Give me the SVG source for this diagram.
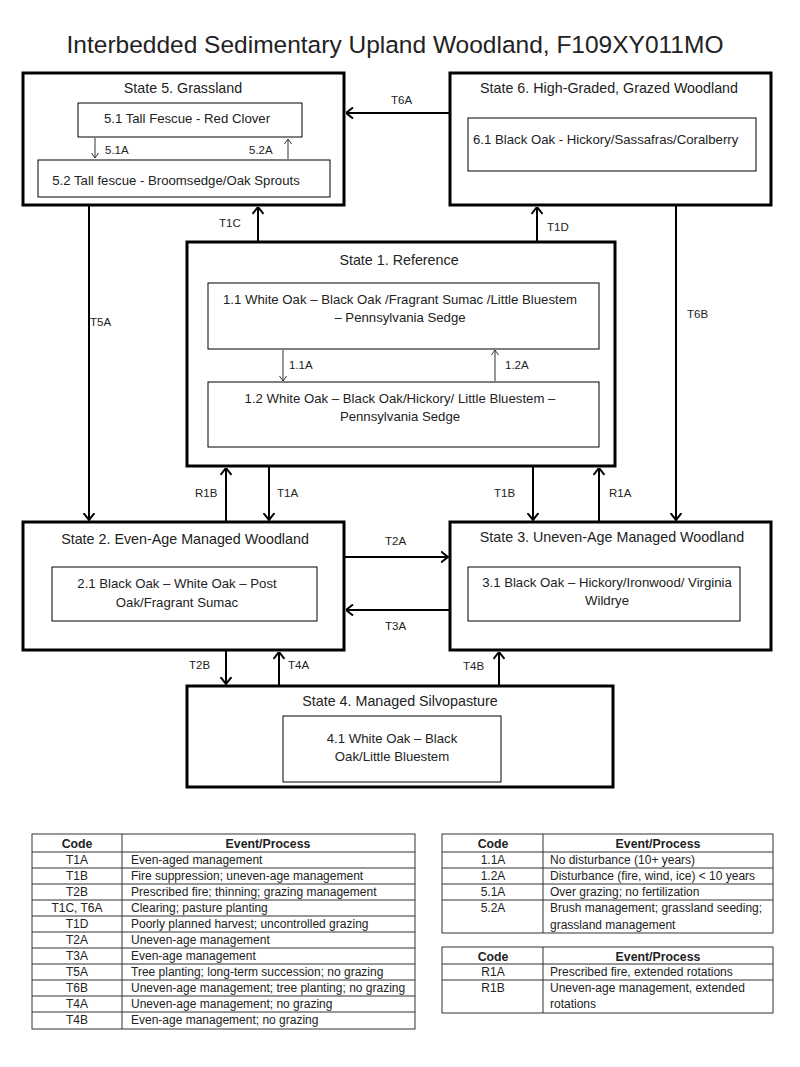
<svg xmlns="http://www.w3.org/2000/svg" width="800" height="1067" viewBox="0 0 800 1067">
<style>
text{font-family:"Liberation Sans",Arial,sans-serif;fill:#222;}
.title{font-size:24.5px;}
.st{font-size:14.3px;text-anchor:middle;}
.tx{font-size:13.2px;}
.c{text-anchor:middle;}
.lb{font-size:11.5px;}
.state{fill:#fff;stroke:#000;stroke-width:3;}
.inner{fill:#fff;stroke:#000;stroke-width:1;}
.con{fill:none;stroke:#000;stroke-width:2;}
.thin{fill:none;stroke:#333;stroke-width:1;}
.tb{font-size:12px;}
.th{font-size:12.3px;font-weight:bold;text-anchor:middle;}
.grid{fill:none;stroke:#333;stroke-width:1;}
</style>
<defs>
<marker id="ah" viewBox="0 0 8 12" refX="7.5" refY="6" markerWidth="8" markerHeight="12" markerUnits="userSpaceOnUse" orient="auto">
<path d="M0.5,0.5 L7.5,6 L0.5,11.5" fill="none" stroke="#000" stroke-width="2"/>
</marker>
<marker id="as" viewBox="0 0 6 8" refX="5.5" refY="4" markerWidth="6" markerHeight="8" markerUnits="userSpaceOnUse" orient="auto">
<path d="M0.5,0.5 L5.5,4 L0.5,7.5" fill="none" stroke="#333" stroke-width="1"/>
</marker>
</defs>
<rect width="800" height="1067" fill="#fff"/>
<text class="title" x="395" y="53" text-anchor="middle">Interbedded Sedimentary Upland Woodland, F109XY011MO</text>

<g id="state5">
<rect class="state" x="23" y="73" width="321" height="132"/>
<text class="st" x="183" y="93">State 5. Grassland</text>
<rect class="inner" x="78" y="103" width="224" height="34"/>
<text class="tx c" x="187" y="123">5.1 Tall Fescue - Red Clover</text>
<rect class="inner" x="38" y="160" width="292" height="37"/>
<text class="tx c" x="176" y="185">5.2 Tall fescue - Broomsedge/Oak Sprouts</text>
</g>

<g id="state6">
<rect class="state" x="450" y="73" width="321" height="132"/>
<text class="st" x="609" y="93">State 6. High-Graded, Grazed Woodland</text>
<rect class="inner" x="468" y="118" width="288" height="53"/>
<text class="tx" x="473" y="144">6.1 Black Oak - Hickory/Sassafras/Coralberry</text>
</g>

<g id="state1">
<rect class="state" x="187" y="242" width="428" height="224"/>
<text class="st" x="399" y="265">State 1. Reference</text>
<rect class="inner" x="208" y="283" width="391" height="66"/>
<text class="tx c" x="400" y="304">1.1 White Oak – Black Oak /Fragrant Sumac /Little Bluestem</text>
<text class="tx c" x="400" y="322">– Pennsylvania Sedge</text>
<rect class="inner" x="208" y="382" width="391" height="65"/>
<text class="tx c" x="400" y="403">1.2 White Oak – Black Oak/Hickory/ Little Bluestem –</text>
<text class="tx c" x="400" y="421">Pennsylvania Sedge</text>
</g>

<g id="state2">
<rect class="state" x="23" y="522" width="321" height="128"/>
<text class="st" x="185" y="544">State 2. Even-Age Managed Woodland</text>
<rect class="inner" x="52" y="567" width="265" height="54"/>
<text class="tx c" x="177" y="588">2.1 Black Oak – White Oak – Post</text>
<text class="tx c" x="177" y="607">Oak/Fragrant Sumac</text>
</g>

<g id="state3">
<rect class="state" x="450" y="522" width="321" height="128"/>
<text class="st" x="612" y="542">State 3. Uneven-Age Managed Woodland</text>
<rect class="inner" x="468" y="567" width="272" height="54"/>
<text class="tx c" x="607" y="587">3.1 Black Oak – Hickory/Ironwood/ Virginia</text>
<text class="tx c" x="607" y="605">Wildrye</text>
</g>

<g id="state4">
<rect class="state" x="187" y="686" width="426" height="101"/>
<text class="st" x="400" y="706">State 4. Managed Silvopasture</text>
<rect class="inner" x="283" y="716" width="218" height="66"/>
<text class="tx c" x="392" y="743">4.1 White Oak – Black</text>
<text class="tx c" x="392" y="761">Oak/Little Bluestem</text>
</g>

<g id="connectors">
<path class="con" d="M450,113 L346,113" marker-end="url(#ah)"/>
<path class="con" d="M258,241 L258,207" marker-end="url(#ah)"/>
<path class="con" d="M537,241 L537,207" marker-end="url(#ah)"/>
<path class="con" d="M89,206 L89,520" marker-end="url(#ah)"/>
<path class="con" d="M676,206 L676,520" marker-end="url(#ah)"/>
<path class="con" d="M226,521 L226,468" marker-end="url(#ah)"/>
<path class="con" d="M269,467 L269,520" marker-end="url(#ah)"/>
<path class="con" d="M533,467 L533,520" marker-end="url(#ah)"/>
<path class="con" d="M599,521 L599,468" marker-end="url(#ah)"/>
<path class="con" d="M345,557 L448,557" marker-end="url(#ah)"/>
<path class="con" d="M449,610 L346,610" marker-end="url(#ah)"/>
<path class="con" d="M226,651 L226,684" marker-end="url(#ah)"/>
<path class="con" d="M279,685 L279,652" marker-end="url(#ah)"/>
<path class="con" d="M499,685 L499,652" marker-end="url(#ah)"/>
<path class="thin" d="M95,138 L95,158" marker-end="url(#as)"/>
<path class="thin" d="M288,159 L288,139" marker-end="url(#as)"/>
<path class="thin" d="M283,350 L283,381" marker-end="url(#as)"/>
<path class="thin" d="M495,381 L495,350" marker-end="url(#as)"/>
<text class="lb" x="391" y="104">T6A</text>
<text class="lb" x="219" y="227">T1C</text>
<text class="lb" x="547" y="231">T1D</text>
<text class="lb" x="90" y="326">T5A</text>
<text class="lb" x="687" y="318">T6B</text>
<text class="lb" x="195" y="497">R1B</text>
<text class="lb" x="277" y="497">T1A</text>
<text class="lb" x="494" y="497">T1B</text>
<text class="lb" x="609" y="497">R1A</text>
<text class="lb" x="385" y="545">T2A</text>
<text class="lb" x="385" y="630">T3A</text>
<text class="lb" x="189" y="669">T2B</text>
<text class="lb" x="288" y="669">T4A</text>
<text class="lb" x="463" y="670">T4B</text>
<text class="lb" x="105" y="154">5.1A</text>
<text class="lb" x="249" y="154">5.2A</text>
<text class="lb" x="289" y="369">1.1A</text>
<text class="lb" x="505" y="369">1.2A</text>
</g>

<g id="table-left">
<rect class="grid" x="32" y="834" width="383" height="195"/>
<path class="grid" d="M122,834 V1029 M32,852 H415 M32,868 H415 M32,884 H415 M32,900 H415 M32,916 H415 M32,932 H415 M32,948 H415 M32,964 H415 M32,980 H415 M32,996 H415 M32,1012 H415"/>
<text class="th" x="77" y="848">Code</text>
<text class="th" x="268" y="848">Event/Process</text>
<g class="tb">
<text class="c" x="77" y="864">T1A</text><text x="131" y="864">Even-aged management</text>
<text class="c" x="77" y="880">T1B</text><text x="131" y="880">Fire suppression; uneven-age management</text>
<text class="c" x="77" y="896">T2B</text><text x="131" y="896">Prescribed fire; thinning; grazing management</text>
<text class="c" x="77" y="912">T1C, T6A</text><text x="131" y="912">Clearing; pasture planting</text>
<text class="c" x="77" y="928">T1D</text><text x="131" y="928">Poorly planned harvest; uncontrolled grazing</text>
<text class="c" x="77" y="944">T2A</text><text x="131" y="944">Uneven-age management</text>
<text class="c" x="77" y="960">T3A</text><text x="131" y="960">Even-age management</text>
<text class="c" x="77" y="976">T5A</text><text x="131" y="976">Tree planting; long-term succession; no grazing</text>
<text class="c" x="77" y="992">T6B</text><text x="131" y="992">Uneven-age management; tree planting; no grazing</text>
<text class="c" x="77" y="1008">T4A</text><text x="131" y="1008">Uneven-age management; no grazing</text>
<text class="c" x="77" y="1024">T4B</text><text x="131" y="1024">Even-age management; no grazing</text>
</g>
</g>

<g id="table-right-1">
<rect class="grid" x="442" y="834" width="331" height="99"/>
<path class="grid" d="M543,834 V933 M442,852 H773 M442,868 H773 M442,884 H773 M442,900 H773"/>
<text class="th" x="493" y="848">Code</text>
<text class="th" x="658" y="848">Event/Process</text>
<g class="tb">
<text class="c" x="493" y="864">1.1A</text><text x="550" y="864">No disturbance (10+ years)</text>
<text class="c" x="493" y="880">1.2A</text><text x="550" y="880">Disturbance (fire, wind, ice) &lt; 10 years</text>
<text class="c" x="493" y="896">5.1A</text><text x="550" y="896">Over grazing; no fertilization</text>
<text class="c" x="493" y="912">5.2A</text><text x="550" y="912">Brush management; grassland seeding;</text>
<text x="550" y="929">grassland management</text>
</g>
</g>

<g id="table-right-2">
<rect class="grid" x="442" y="947" width="331" height="66"/>
<path class="grid" d="M543,947 V1013 M442,964 H773 M442,980 H773"/>
<text class="th" x="493" y="961">Code</text>
<text class="th" x="658" y="961">Event/Process</text>
<g class="tb">
<text class="c" x="493" y="976">R1A</text><text x="550" y="976">Prescribed fire, extended rotations</text>
<text class="c" x="493" y="992">R1B</text><text x="550" y="992">Uneven-age management, extended</text>
<text x="550" y="1008">rotations</text>
</g>
</g>
</svg>
